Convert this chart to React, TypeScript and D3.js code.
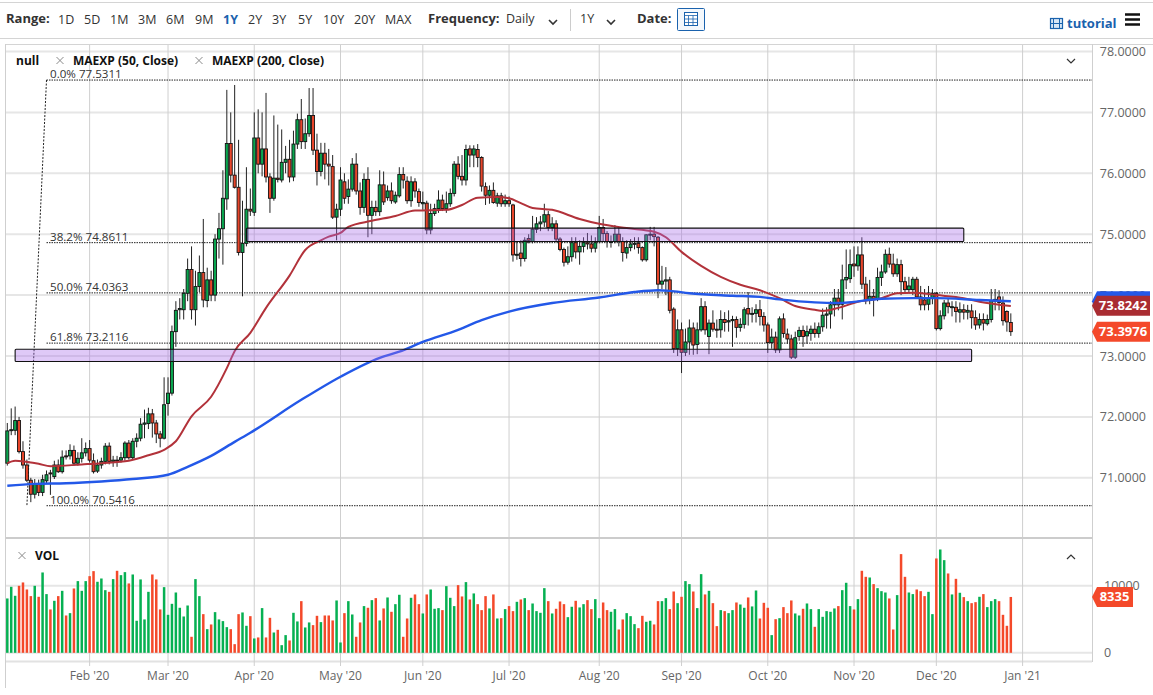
import React from "react";
import * as d3 from "d3";

const opens = [
71.24,71.78,71.78,71.94,71.43,71.21,70.96,70.73,70.89,70.76,
70.95,71.08,71.02,71.21,71.1,71.36,71.36,71.45,71.24,71.32,
71.41,71.48,71.28,71.11,71.21,71.27,71.52,71.27,71.29,71.29,
71.33,71.57,71.33,71.6,71.65,71.88,71.89,72.05,71.9,71.72,
71.65,72.22,72.39,73.4,73.76,73.76,74.03,74.42,73.76,74.14,
74.37,73.91,74.25,74.0,74.92,75.09,75.58,76.49,75.97,75.77,
74.7,74.85,75.41,75.36,76.58,76.15,76.4,75.94,75.59,75.92,
75.89,76.18,76.23,75.94,76.48,76.88,76.52,76.65,76.95,76.38,
76.03,76.33,76.15,76.11,75.28,75.41,75.86,75.62,75.74,76.15,
75.71,75.44,75.9,75.31,75.44,75.37,75.81,75.6,75.71,75.53,
75.63,75.98,75.87,75.55,75.86,75.7,75.5,75.51,75.07,75.34,
75.42,75.56,75.42,75.5,75.67,76.15,75.95,75.89,76.4,76.3,
76.39,76.26,75.78,75.64,75.72,75.51,75.63,75.5,75.55,75.48,
74.66,74.69,74.6,74.93,74.88,75.08,75.17,75.2,75.32,75.11,
75.17,74.92,74.75,74.54,74.63,74.86,74.71,74.8,74.86,74.84,
74.77,74.88,75.11,75.01,74.87,74.88,75.0,74.88,74.69,74.78,
74.84,74.85,74.78,74.58,74.99,75.0,74.95,74.18,74.23,74.25,
73.77,73.12,73.43,73.06,73.23,73.46,73.19,73.43,73.81,73.32,
73.54,73.44,73.43,73.6,73.56,73.58,73.6,73.47,73.52,73.78,
73.69,73.7,73.76,73.65,73.51,73.22,73.31,73.1,73.61,73.36,
73.28,72.98,73.32,73.42,73.33,73.37,73.44,73.37,73.48,73.67,
73.69,73.84,73.95,73.85,74.25,74.27,74.51,74.48,74.66,74.18,
73.91,73.98,73.94,74.29,74.38,74.67,74.51,74.35,74.5,74.22,
74.09,74.09,74.26,73.97,73.92,73.85,73.95,74.03,73.45,73.66,
73.87,73.8,73.8,73.72,73.76,73.72,73.74,73.63,73.51,73.6,
73.53,73.6,73.9,73.97,73.87,73.73,73.55];

const highs = [
71.9,72.14,72.17,72.0,71.6,71.3,71.0,70.98,70.97,71.05,
71.12,71.13,71.28,71.3,71.45,71.45,71.55,71.53,71.42,71.65,
71.58,71.62,71.4,71.3,71.33,71.57,71.58,71.36,71.36,71.42,
71.6,71.62,71.65,71.73,71.98,72.12,72.15,72.13,71.95,71.77,
72.65,72.65,73.5,73.9,73.95,74.1,74.6,74.8,74.4,74.65,
75.25,74.45,74.4,75.0,75.35,76.05,77.37,77.0,77.45,76.55,
75.55,76.1,75.75,77.0,77.05,77.0,77.32,76.0,76.95,76.8,
76.72,76.45,76.55,76.7,76.98,77.22,76.9,77.4,77.4,76.65,
76.5,76.5,76.4,76.3,75.5,76.1,76.0,75.9,76.25,76.33,
75.85,76.0,76.1,75.55,75.55,76.05,76.03,75.8,75.85,75.7,
76.1,76.1,75.95,75.95,75.92,75.75,75.7,75.55,75.5,75.5,
75.72,75.65,75.7,75.75,76.2,76.28,76.3,76.47,76.46,76.46,
76.48,76.28,75.85,75.8,75.85,75.68,75.68,75.65,75.62,75.5,
74.88,74.9,74.95,75.0,75.3,75.28,75.3,75.5,75.38,75.28,
75.23,74.95,74.78,74.8,74.95,74.95,74.9,74.95,75.02,74.98,
74.95,75.3,75.25,75.05,74.98,75.15,75.12,74.95,74.9,74.92,
74.95,74.95,74.8,75.0,75.12,75.12,74.97,74.48,74.46,74.3,
73.8,73.6,73.55,73.45,73.6,73.55,73.55,73.95,73.9,73.6,
73.75,73.6,73.75,73.72,73.75,73.66,73.65,73.62,73.8,74.05,
73.8,73.85,73.92,73.72,73.55,73.45,73.4,73.65,73.7,73.45,
73.35,73.4,73.48,73.5,73.5,73.5,73.55,73.55,73.78,73.8,
73.9,74.1,74.1,74.5,74.75,74.75,74.8,74.8,74.95,74.3,
74.25,74.1,74.45,74.5,74.75,74.78,74.68,74.6,74.58,74.3,
74.3,74.3,74.3,74.15,74.1,74.15,74.1,74.05,73.75,73.92,
73.95,73.9,73.9,73.88,73.85,73.84,73.85,73.75,73.7,73.7,
73.68,74.1,74.1,74.08,73.98,73.75,73.7];

const lows = [
71.2,71.7,71.7,71.4,71.15,70.93,70.6,70.66,70.7,70.7,
70.9,70.72,70.98,71.08,71.07,71.3,71.3,71.2,71.2,71.25,
71.35,71.25,71.07,71.08,71.15,71.22,71.22,71.18,71.18,71.25,
71.28,71.3,71.3,71.5,71.6,71.65,71.8,71.66,71.57,71.5,
71.63,72.02,72.35,73.15,73.6,73.6,73.9,73.6,73.5,74.05,
73.8,73.8,73.9,73.9,74.6,74.5,75.4,75.85,75.75,74.65,
73.98,74.8,75.3,75.3,76.0,75.95,75.85,75.35,75.55,75.85,
75.85,76.0,75.85,75.87,76.4,76.4,76.4,76.6,76.3,75.8,
75.95,75.9,75.8,75.25,74.9,75.3,75.5,75.5,75.7,75.65,
75.32,75.35,74.95,75.0,75.3,75.3,75.48,75.55,75.5,75.5,
75.6,75.75,75.5,75.45,75.6,75.45,75.4,75.0,75.0,75.3,
75.35,75.38,75.35,75.45,75.62,75.9,75.8,75.8,76.1,76.1,
76.1,75.7,75.48,75.5,75.5,75.45,75.45,75.45,75.45,74.55,
74.58,74.47,74.55,74.85,74.85,75.02,75.05,75.12,75.05,75.05,
74.88,74.72,74.47,74.5,74.55,74.6,74.5,74.7,74.75,74.7,
74.7,74.85,74.88,74.78,74.78,74.85,74.8,74.55,74.6,74.72,
74.75,74.68,74.55,74.55,74.9,74.8,73.95,74.1,74.0,73.7,
73.05,73.0,72.72,73.0,73.02,73.02,73.03,73.4,73.35,73.03,
73.4,73.3,73.3,73.4,73.4,73.15,73.3,73.4,73.45,73.5,
73.55,73.55,73.5,73.4,73.05,73.12,73.05,73.05,73.3,73.2,
72.95,72.95,73.25,73.15,73.2,73.25,73.3,73.3,73.4,73.45,
73.45,73.65,73.75,73.6,74.1,74.2,74.3,74.4,74.1,73.85,
73.85,73.65,73.9,74.15,74.35,74.45,74.3,74.3,74.0,74.05,
74.05,74.0,73.95,73.75,73.75,73.75,73.85,73.42,73.42,73.6,
73.7,73.65,73.55,73.55,73.6,73.6,73.45,73.43,73.45,73.42,
73.5,73.55,73.75,73.75,73.5,73.4,73.33];

const closes = [
71.77,71.79,71.94,71.43,71.21,70.96,70.73,70.9,70.76,70.97,
71.05,71.07,71.21,71.1,71.34,71.35,71.45,71.24,71.32,71.41,
71.48,71.29,71.1,71.21,71.27,71.52,71.27,71.29,71.28,71.33,
71.57,71.33,71.6,71.65,71.88,71.9,72.05,71.9,71.72,71.65,
72.2,72.39,73.4,73.75,73.78,74.03,74.42,73.76,74.14,74.37,
73.92,74.25,74.0,74.92,75.09,75.59,76.49,75.97,75.77,74.7,
74.85,75.41,75.38,76.58,76.15,76.4,75.94,75.59,75.92,75.9,
76.18,76.23,75.94,76.48,76.88,76.52,76.65,76.95,76.38,76.03,
76.33,76.15,76.12,75.28,75.41,75.89,75.59,75.74,76.15,75.71,
75.44,75.9,75.31,75.44,75.37,75.81,75.53,75.71,75.55,75.64,
75.98,75.89,75.55,75.86,75.71,75.52,75.52,75.07,75.34,75.42,
75.56,75.42,75.5,75.67,76.15,75.95,75.89,76.39,76.3,76.4,
76.26,75.79,75.64,75.72,75.52,75.63,75.5,75.55,75.5,74.66,
74.67,74.6,74.9,74.9,75.08,75.17,75.2,75.32,75.11,75.17,
74.92,74.75,74.54,74.63,74.86,74.71,74.8,74.86,74.84,74.77,
74.86,75.11,75.01,74.88,74.88,75.0,74.88,74.7,74.78,74.84,
74.85,74.78,74.58,74.99,75.0,74.96,74.18,74.23,74.25,73.75,
73.12,73.43,73.06,73.23,73.46,73.18,73.43,73.81,73.43,73.54,
73.44,73.43,73.6,73.55,73.58,73.6,73.47,73.52,73.76,73.69,
73.7,73.76,73.65,73.51,73.22,73.31,73.1,73.61,73.37,73.28,
72.98,73.3,73.42,73.32,73.4,73.44,73.37,73.48,73.67,73.69,
73.84,73.95,73.84,74.25,74.29,74.5,74.48,74.66,74.18,73.91,
73.98,73.94,74.29,74.38,74.67,74.51,74.35,74.5,74.22,74.09,
74.15,74.26,73.97,73.84,73.84,73.95,74.03,73.45,73.66,73.87,
73.81,73.81,73.73,73.76,73.72,73.75,73.63,73.51,73.6,73.54,
73.6,73.91,73.93,73.88,73.58,73.56,73.4];

const volumes = [
8110,9850,8510,10000,10500,9450,8460,10000,8360,11990,
8760,6470,7760,8460,9250,5570,5920,9600,10700,9250,
10700,11440,12190,10600,11090,9350,9100,11000,12240,11590,
12040,10350,11690,4780,10950,4980,9100,11690,10950,6470,
9800,5670,7310,9000,6720,5420,7060,2390,11000,8460,
5770,3530,4230,6070,4980,4730,3830,3530,1290,5770,
6020,4030,5470,2140,2290,6670,2290,5220,3030,3430,
1140,2640,1840,5970,4680,7710,3780,4530,4130,5520,
4580,5570,5570,4830,7810,1540,5920,7710,5720,2390,
4530,6970,6720,7860,8160,4830,6620,8260,6120,7260,
8660,2390,5120,8210,8710,7260,5870,8710,9450,6570,
6670,6370,9950,8210,6970,10100,8410,10550,7960,8860,
7260,6370,8460,6620,8710,5120,5170,6520,6970,6220,
7610,7960,8160,6370,7360,6220,5970,9650,7710,5870,
6570,7660,7260,5320,6870,7760,6770,7260,7860,6520,
8010,5170,7510,6370,6120,6520,3480,4980,5920,5470,
4280,3680,5520,4630,4780,4230,7710,7710,8160,6520,
9150,7410,8360,10700,10250,9150,6670,11740,8710,9250,
7410,3980,6370,6220,5920,6370,7510,7210,6720,8260,
6920,9300,5120,7460,6720,2640,5020,5170,6820,5920,
7810,5870,5570,6570,7360,6520,3880,6520,5370,6220,
6120,6620,6970,9350,10450,6970,6470,8010,12240,11340,
11240,10250,9650,9200,9000,8110,3480,8610,14730,11340,
9000,8760,9450,9200,8460,9100,5770,14080,15420,13830,
11840,8710,11040,8960,8310,7710,7410,7560,8360,8760,
6820,7710,8010,7710,5670,4030,8335];

const ma50Days = [0,2,5,8,11,19,24,31,36,40,43,47,52,56,58,62,66,72,76,80,82,85,87,93,99,104,112,116,120,125,128,131,134,139,146,151,158,165,168,172,177,182,187,192,197,201,206,208,212,217,223,227,231,237,244,248,256];
const ma50Values = [71.24,71.28,71.26,71.23,71.19,71.22,71.24,71.28,71.37,71.46,71.6,72.01,72.33,72.8,73.08,73.38,73.79,74.32,74.74,74.9,74.96,75.02,75.12,75.22,75.3,75.39,75.4,75.48,75.6,75.61,75.59,75.51,75.43,75.4,75.25,75.17,75.1,75.04,74.95,74.71,74.48,74.3,74.17,74.08,73.95,73.82,73.76,73.74,73.79,73.89,73.95,74.03,74.04,74.0,73.95,73.89,73.82];
const ma200Days = [0,7,15,24,32,41,46,52,58,62,75,85,95,100,106,115,121,128,139,151,160,166,169,174,185,192,197,206,212,223,231,237,248,256];
const ma200Values = [70.87,70.9,70.91,70.94,70.98,71.05,71.18,71.36,71.59,71.74,72.28,72.66,72.97,73.07,73.23,73.43,73.59,73.73,73.87,73.96,74.05,74.08,74.07,74.03,73.99,73.97,73.93,73.88,73.87,73.94,73.95,73.95,73.92,73.9];

const priceTicks = [78, 77, 76, 75, 74, 73, 72, 71];
const volumeTicks = [0, 10000];
const monthLabels = ["Feb '20","Mar '20","Apr '20","May '20","Jun '20","Jul '20","Aug '20","Sep '20","Oct '20","Nov '20","Dec '20","Jan '21"];
const monthDays = [21,41,63,85,106,128,151,172,194,216,237,259];
const fibLabels = ["0.0%","38.2%","50.0%","61.8%","100.0%"];
const fibValues = [77.5311,74.8611,74.0363,73.2116,70.5416];
const zoneDays = [[61,244],[2,246]];
const zonePrices = [[75.1,74.88],[73.11,72.91]];
const ranges = ["1D","5D","1M","3M","6M","9M","1Y","2Y","3Y","5Y","10Y","20Y","MAX"];
const rangeX = [58,84,110,138,166,195,223,248,272,298,323,354,385];
const lastClose = 73.3976, lastMa50 = 73.8242, lastMa200 = 73.9, lastVol = 8335;

const FONT = "'Open Sans', sans-serif";
const GREEN = "#0aa64f", RED = "#e8452a";
const VGREEN = "#06b052", VRED = "#f4492a";

const x = d3.scaleLinear().domain([0, 256]).range([7.3, 7.3 + 256 * 3.92]);
const y = d3.scaleLinear().domain([78, 71]).range([51.5, 477.8]);
const v = d3.scaleLinear().domain([0, 10000]).range([652.8, 585.8]);

const lineOf = (days: number[], vals: number[]) =>
  d3.line<number>().x(d => x(d)).y((_, k) => y(vals[k])).curve(d3.curveMonotoneX)(days) as string;

const chev = (cx: number, cy: number, up = false) => {
  const d = up ? -3 : 3;
  return `M${cx - 4},${cy - d / 1.5}L${cx},${cy + d / 1.5}L${cx + 4},${cy - d / 1.5}`;
};
const Cross = ({ cx, cy }: { cx: number; cy: number }) => (
  <path d={`M${cx - 3.5},${cy - 3.5}L${cx + 3.5},${cy + 3.5}M${cx + 3.5},${cy - 3.5}L${cx - 3.5},${cy + 3.5}`} stroke="#8a8a8a" strokeWidth={1} fill="none" />
);

const Tag = ({ yc, w, color, label, h = 20 }: { yc: number; w: number; color: string; label?: string; h?: number }) => (
  <g>
    <path d={`M1092,${yc}L1097,${yc - h / 2}H${1092 + w}V${yc + h / 2}H1097Z`} fill={color} />
    {label ? <text x={1092 + w / 2 + 2} y={yc + 4.5} fill="#fff" fontSize={13} fontWeight={700} textAnchor="middle" fontFamily={FONT}>{label}</text> : null}
  </g>
);

export default function App() {
  const label = { fontFamily: FONT, fontSize: 12, fill: "#111" } as const;
  return (
    <svg width={1153} height={695} style={{ position: "absolute", left: 0, top: 0, display: "block", background: "#fff" }}>
      {/* toolbar */}
      <line x1={0} x2={1153} y1={2.5} y2={2.5} stroke="#d4d4d4" />
      <line x1={0} x2={1153} y1={38.5} y2={38.5} stroke="#d4d4d4" />
      <line x1={5.5} x2={1153} y1={44.5} y2={44.5} stroke="#d4d4d4" />
      <text x={6} y={23} fontFamily={FONT} fontSize={13} fontWeight={700} fill="#333">Range:</text>
      {ranges.map((r, k) => (
        <text key={r} x={rangeX[k]} y={24} fontFamily={FONT} fontSize={12.5} fontWeight={r === "1Y" ? 700 : 400} fill={r === "1Y" ? "#1a62ad" : "#333"}>{r}</text>
      ))}
      <text x={428} y={23} fontFamily={FONT} fontSize={13} fontWeight={700} fill="#333">Frequency:</text>
      <text x={506} y={23} fontFamily={FONT} fontSize={12.5} fill="#333">Daily</text>
      <path d={chev(553, 22)} stroke="#333" strokeWidth={1.6} fill="none" />
      <line x1={570.5} x2={570.5} y1={9} y2={31} stroke="#ccc" />
      <text x={580} y={23} fontFamily={FONT} fontSize={12.5} fill="#333">1Y</text>
      <path d={chev(611, 22)} stroke="#333" strokeWidth={1.6} fill="none" />
      <text x={637} y={23} fontFamily={FONT} fontSize={13} fontWeight={700} fill="#333">Date:</text>
      <rect x={677.5} y={8.5} width={27} height={22} fill="#f4f8fc" stroke="#1a62ad" rx={1} />
      <rect x={684.5} y={12.5} width={13} height={13} fill="#fff" stroke="#1a62ad" />
      <path d="M684.5,15.5H697.5M688.5,15.5V25.5M693,15.5V25.5M684.5,19H697.5M684.5,22.5H697.5" stroke="#1a62ad" strokeWidth={0.8} />
      <rect x={1050.5} y={18.5} width={12} height={10} fill="#d7e6f6" stroke="#1a62ad" strokeWidth={1.2} />
      <path d="M1053.5,18.5V28.5M1059.5,18.5V28.5M1050.5,23.5H1062.5" stroke="#1a62ad" />
      <text x={1067} y={28} fontFamily={FONT} fontSize={13} fontWeight={700} fill="#1a62ad">tutorial</text>
      <path d="M1125,14.5H1140M1125,19.5H1140M1125,24.5H1140" stroke="#111" strokeWidth={2.4} />

      {/* grid */}
      {priceTicks.map(t => <line key={t} x1={6} x2={1092} y1={y(t)} y2={y(t)} stroke="#e6e6e6" strokeWidth={2} />)}
      {volumeTicks.map(t => <line key={t} x1={6} x2={1092} y1={v(t)} y2={v(t)} stroke="#e6e6e6" strokeWidth={2} />)}
      <line x1={6} x2={1092} y1={661.5} y2={661.5} stroke="#e2e2e2" strokeWidth={2} />
      {monthDays.map(d => <line key={d} x1={x(d)} x2={x(d)} y1={45} y2={666} stroke="#cfcfcf" strokeWidth={1} />)}
      <line x1={5.5} x2={5.5} y1={44} y2={688} stroke="#cfcfcf" />
      <line x1={1092.5} x2={1092.5} y1={44} y2={662} stroke="#cfcfcf" />
      <line x1={6} x2={1092} y1={538} y2={538} stroke="#cccccc" strokeWidth={2} />

      {/* fibonacci */}
      <path d={`M${x(10)},${y(fibValues[0])}L${x(5)},${y(fibValues[4])}`} stroke="#222" strokeWidth={1} strokeDasharray="2,1.5" fill="none" />
      {fibValues.map((f, k) => (
        <g key={f}>
          <line x1={x(10)} x2={1092} y1={y(f)} y2={y(f)} stroke="#222" strokeWidth={1} strokeDasharray="1.5,1" />
          <text x={50} y={y(f) - 2} fontFamily={FONT} fontSize={11.6} fill="#333">{fibLabels[k]} {f.toFixed(4)}</text>
        </g>
      ))}

      {/* candles */}
      {opens.map((o, i) => {
        const c = closes[i], up = c >= o, cx = x(i);
        const top = y(Math.max(o, c)), bot = y(Math.min(o, c));
        return (
          <g key={i}>
            <line x1={cx} x2={cx} y1={y(highs[i])} y2={y(lows[i])} stroke="#222" strokeWidth={1} />
            <rect x={cx - 1.5} y={top} width={3} height={Math.max(bot - top, 1)} fill={up ? GREEN : RED} stroke="#111" strokeWidth={0.9} />
          </g>
        );
      })}

      {/* moving averages */}
      <path d={lineOf(ma50Days, ma50Values)} fill="none" stroke="#b2323a" strokeWidth={2} />
      <path d={lineOf(ma200Days, ma200Values)} fill="none" stroke="#2358e8" strokeWidth={2.4} />

      {/* zones */}
      {zoneDays.map((z, k) => (
        <rect key={k} x={x(z[0])} y={y(zonePrices[k][0])} width={x(z[1]) - x(z[0])} height={y(zonePrices[k][1]) - y(zonePrices[k][0])}
          fill="#a768ea" fillOpacity={0.36} stroke="#111" strokeWidth={1.1} rx={1} />
      ))}

      {/* volume */}
      {volumes.map((val, i) => (
        <rect key={i} x={x(i) - 1.25} y={v(val)} width={2.5} height={v(0) - v(val)} fill={closes[i] >= opens[i] ? VGREEN : VRED} />
      ))}

      {/* legend */}
      <text x={16} y={65} {...label} fontWeight={700}>null</text>
      <Cross cx={60} cy={60.5} />
      <text x={73} y={65} {...label} fontWeight={700}>MAEXP (50, Close)</text>
      <Cross cx={199} cy={60.5} />
      <text x={212} y={65} {...label} fontWeight={700}>MAEXP (200, Close)</text>
      <path d={chev(1071, 61)} stroke="#333" strokeWidth={1.2} fill="none" />
      <Cross cx={22} cy={555.5} />
      <text x={35} y={560} {...label} fontWeight={700}>VOL</text>
      <path d={chev(1071, 557, true)} stroke="#333" strokeWidth={1.2} fill="none" />

      {/* axis labels */}
      {priceTicks.map(t => (
        <text key={t} x={1146} y={y(t) + 4.5} textAnchor="end" fontFamily={FONT} fontSize={12.5} fill="#666">{t.toFixed(4)}</text>
      ))}
      {volumeTicks.map(t => (
        <text key={t} x={1104} y={v(t) + 4.5} fontFamily={FONT} fontSize={12.5} fill="#666">{t}</text>
      ))}
      {monthLabels.map((m, k) => (
        <text key={m} x={x(monthDays[k])} y={680} textAnchor="middle" fontFamily={FONT} fontSize={12} fill="#666">{m}</text>
      ))}

      {/* end tags */}
      <Tag yc={y(lastMa200)} w={58} color="#2358e8" />
      <Tag yc={y(lastMa50)} w={58} color="#a92c32" label={lastMa50.toFixed(4)} />
      <Tag yc={y(lastClose)} w={58} color={VRED} label={lastClose.toFixed(4)} />
      <Tag yc={v(lastVol)} w={41} color={VRED} label={String(lastVol)} />
    </svg>
  );
}
